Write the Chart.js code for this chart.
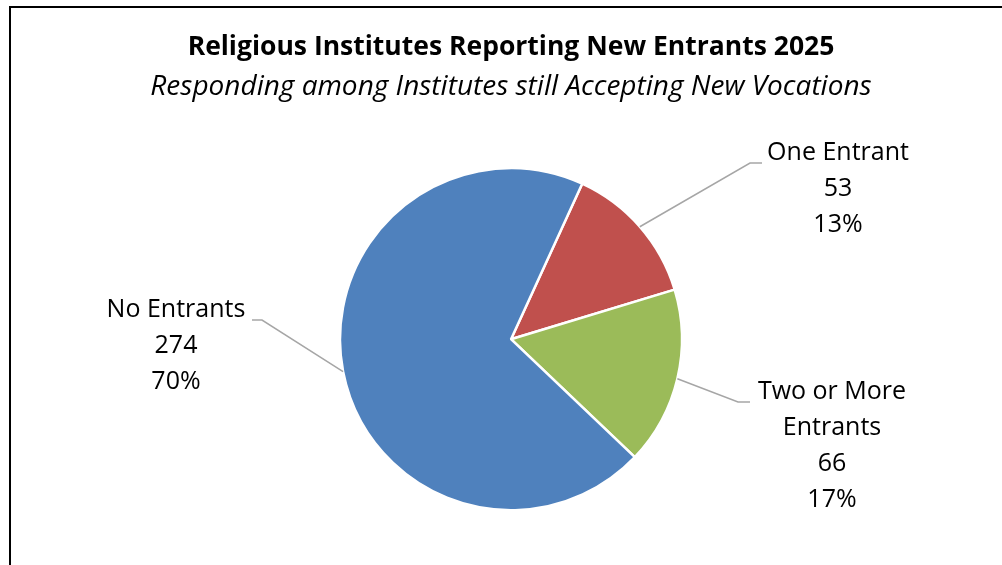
<!DOCTYPE html>
<html>
<head>
<meta charset="utf-8">
<script src="https://cdn.jsdelivr.net/npm/chart.js@4/dist/chart.umd.min.js"></script>
<style>
  html, body { margin: 0; padding: 0; background: #fff; }
  #wrap { position: relative; width: 1002px; height: 565px; }
  #frame { position: absolute; left: 9px; top: 6px; right: 0; bottom: 0;
           border-top: 2px solid #000; border-left: 2px solid #000; pointer-events: none; }
</style>
</head>
<body>
<div id="wrap">
  <canvas id="pie" width="1002" height="565"></canvas>
  <div id="frame"></div>
</div>
<script>
const categories = ['One Entrant', 'Two or More Entrants', 'No Entrants'];
const entrants = [53, 66, 274];
const labelLines = [['One Entrant'], ['Two or More', 'Entrants'], ['No Entrants']];
const sliceColors = ['#C0504D', '#9BBB59', '#4F81BD'];

// where each callout sits: elbow of the leader line, end of its short tail, text block centre
const callouts = [
  {elbow: [750, 163], tail: [762, 163], textX: 838, textY: 153},
  {elbow: [738, 402], tail: [750, 402], textX: 832, textY: 392},
  {elbow: [262, 320], tail: [252, 320], textX: 176, textY: 310}
];

const FONT = '"Open Sans", Lato, sans-serif';

const calloutPlugin = {
  id: 'callouts',
  afterDatasetsDraw(chart) {
    const ctx = chart.ctx;
    const meta = chart.getDatasetMeta(0);
    const data = chart.data.datasets[0].data;
    const total = data.reduce((a, b) => a + b, 0);
    ctx.save();
    meta.data.forEach((arc, i) => {
      const c = callouts[i];
      const mid = (arc.startAngle + arc.endAngle) / 2;
      const x0 = arc.x + Math.cos(mid) * arc.outerRadius;
      const y0 = arc.y + Math.sin(mid) * arc.outerRadius;
      ctx.strokeStyle = '#A6A6A6';
      ctx.lineWidth = 1.5;
      ctx.beginPath();
      ctx.moveTo(x0, y0);
      ctx.lineTo(c.elbow[0], c.elbow[1]);
      ctx.lineTo(c.tail[0], c.tail[1]);
      ctx.stroke();

      const lines = labelLines[i].concat([String(data[i]), Math.round(data[i] / total * 100) + '%']);
      ctx.fillStyle = '#000';
      ctx.font = '25px ' + FONT;
      ctx.textAlign = 'center';
      ctx.textBaseline = 'middle';
      lines.forEach((t, k) => ctx.fillText(t, c.textX, c.textY + k * 36));
    });
    ctx.restore();
  }
};

new Chart(document.getElementById('pie'), {
  type: 'pie',
  data: {
    labels: categories,
    datasets: [{
      data: entrants,
      backgroundColor: sliceColors,
      borderColor: '#fff',
      borderWidth: 2.5
    }]
  },
  options: {
    responsive: false,
    animation: false,
    rotation: 24.6,
    radius: 171,
    layout: {padding: {left: 20, right: 0, top: 0, bottom: 20}},
    plugins: {
      legend: {display: false},
      tooltip: {enabled: false},
      title: {
        display: true,
        text: 'Religious Institutes Reporting New Entrants 2025',
        color: '#000',
        font: {family: FONT, size: 26.5, weight: 'bold'},
        padding: {top: 32, bottom: 6}
      },
      subtitle: {
        display: true,
        text: 'Responding among Institutes still Accepting New Vocations',
        color: '#000',
        font: {family: FONT, size: 28, style: 'italic'},
        padding: {top: 0, bottom: 30}
      }
    }
  },
  plugins: [calloutPlugin]
});
</script>
</body>
</html>
